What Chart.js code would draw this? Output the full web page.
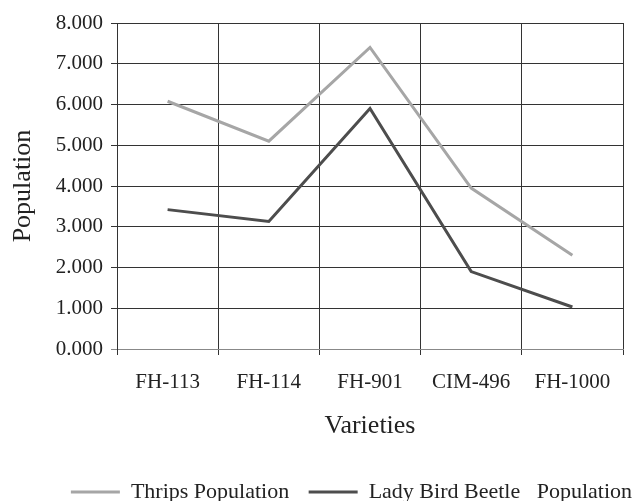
<!DOCTYPE html>
<html>
<head>
<meta charset="utf-8">
<script src="https://cdn.jsdelivr.net/npm/chart.js@4"></script>
<style>
html,body{margin:0;padding:0;background:#fff;}
#wrap{width:635px;height:501px;}
</style>
</head>
<body>
<div id="wrap"><canvas id="c" width="635" height="501"></canvas></div>
<script>
const categories = ["FH-113", "FH-114", "FH-901", "CIM-496", "FH-1000"];
const thripsPopulation = [6.08, 5.10, 7.40, 3.95, 2.30];
const ladyBirdBeetlePopulation = [3.42, 3.13, 5.90, 1.90, 1.03];
const seriesNames = ["Thrips Population", "Lady Bird Beetle   Population"];
const yTicks = [0, 1, 2, 3, 4, 5, 6, 7, 8];

const FONT = "'Liberation Serif', 'Times New Roman', serif";
const GRID = '#333333';

new Chart(document.getElementById('c'), {
  type: 'line',
  data: {
    labels: categories,
    datasets: [
      { label: seriesNames[0] + '   ', data: thripsPopulation, borderColor: '#a6a6a6', backgroundColor: '#a6a6a6', borderWidth: 3, pointRadius: 0, tension: 0, fill: false },
      { label: seriesNames[1], data: ladyBirdBeetlePopulation, borderColor: '#4d4d4d', backgroundColor: '#4d4d4d', borderWidth: 3, pointRadius: 0, tension: 0, fill: false }
    ]
  },
  options: {
    responsive: false,
    animation: false,
    layout: { padding: { top: 23, left: 0, right: 0, bottom: -12 } },
    plugins: {
      tooltip: { enabled: false },
      legend: {
        position: 'bottom',
        align: 'end',
        labels: {
          font: { family: FONT, size: 22 },
          color: '#222',
          boxWidth: 49,
          boxHeight: 3,
          padding: 3,
          generateLabels: (chart) => chart.data.datasets.map((ds, i) => ({
            text: ds.label, fillStyle: ds.borderColor, strokeStyle: ds.borderColor,
            lineWidth: 0, hidden: false, datasetIndex: i, fontColor: '#222'
          }))
        }
      }
    },
    scales: {
      x: {
        type: 'category',
        offset: true,
        grid: { offset: true, color: GRID, lineWidth: 1, tickLength: 6, drawTicks: true },
        border: { color: '#888', width: 1 },
        ticks: { font: { family: FONT, size: 21 }, color: '#222', padding: 15, maxRotation: 0 },
        title: { display: true, text: 'Varieties', font: { family: FONT, size: 26 }, color: '#222', padding: { top: 14, bottom: 36 } },
        afterFit: (s) => { s.height = 129; }
      },
      y: {
        min: 0, max: 8,
        afterBuildTicks: (s) => { s.ticks = yTicks.map(v => ({ value: v })); },
        grid: { color: (ctx) => ctx.index === 0 ? '#888' : GRID, lineWidth: 1, tickLength: 6 },
        border: { color: GRID, width: 1 },
        ticks: { font: { family: FONT, size: 21 }, color: '#222', padding: 8, callback: (v) => Number(v).toFixed(3) },
        title: { display: true, text: 'Population', font: { family: FONT, size: 26 }, color: '#222', padding: { top: 8, bottom: 6 } },
        afterFit: (s) => { s.width = 117; }
      },
      y2: {
        position: 'right',
        display: true,
        grid: { display: false, drawTicks: false },
        border: { display: false },
        ticks: { display: false },
        afterFit: (s) => { s.width = 12; }
      }
    }
  }
});
</script>
</body>
</html>
